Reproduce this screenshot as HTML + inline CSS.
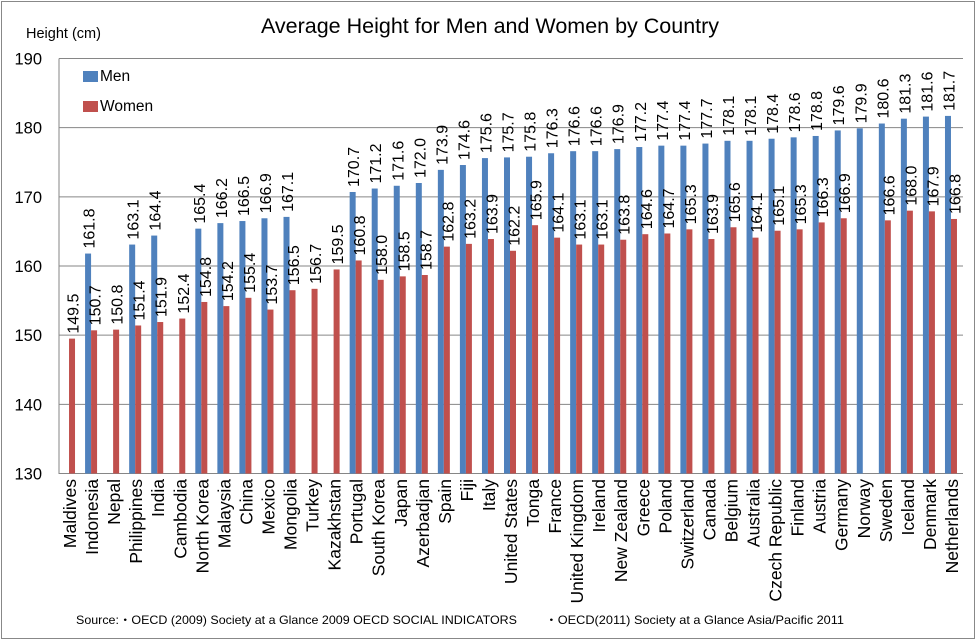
<!DOCTYPE html>
<html><head><meta charset="utf-8"><style>
body{margin:0;background:#fff}
svg{display:block;font-family:"Liberation Sans",sans-serif}
</style></head><body>
<svg id="chart" width="978" height="641" viewBox="0 0 978 641" xmlns="http://www.w3.org/2000/svg">
<rect x="1.5" y="1.5" width="973" height="637" fill="#fff" stroke="#888" stroke-width="1"/>
<text x="490" y="33" font-size="21.5" text-anchor="middle">Average Height for Men and Women by Country</text>
<text x="26" y="38" font-size="14.5">Height (cm)</text>
<g id="grid"></g>
<g id="bars"></g>
<g id="labels"></g>
<g id="xlabels"></g>
<g>
<rect x="83" y="71" width="15" height="11" fill="#4f81bd"/>
<text x="100" y="81" font-size="15.5">Men</text>
<rect x="83" y="101" width="15" height="11" fill="#c0504d"/>
<text x="100" y="111" font-size="15.5">Women</text>
</g>
<text x="76" y="624" font-size="12" textLength="441" lengthAdjust="spacingAndGlyphs">Source:・OECD (2009) Society at a Glance 2009  OECD SOCIAL INDICATORS</text>
<text x="545" y="624" font-size="12" textLength="299" lengthAdjust="spacingAndGlyphs">・OECD(2011) Society at a Glance Asia/Pacific 2011</text>
</svg>
<script>
const countries=["Maldives","Indonesia","Nepal","Philippines","India","Cambodia","North Korea","Malaysia","China","Mexico","Mongolia","Turkey","Kazakhstan","Portugal","South Korea","Japan","Azerbadjan","Spain","Fiji","Italy","United States","Tonga","France","United Kingdom","Ireland","New Zealand","Greece","Poland","Switzerland","Canada","Belgium","Australia","Czech Republic","Finland","Austria","Germany","Norway","Sweden","Iceland","Denmark","Netherlands"];
const men=[null,161.8,null,163.1,164.4,null,165.4,166.2,166.5,166.9,167.1,null,null,170.7,171.2,171.6,172.0,173.9,174.6,175.6,175.7,175.8,176.3,176.6,176.6,176.9,177.2,177.4,177.4,177.7,178.1,178.1,178.4,178.6,178.8,179.6,179.9,180.6,181.3,181.6,181.7];
const women=[149.5,150.7,150.8,151.4,151.9,152.4,154.8,154.2,155.4,153.7,156.5,156.7,159.5,160.8,158.0,158.5,158.7,162.8,163.2,163.9,162.2,165.9,164.1,163.1,163.1,163.8,164.6,164.7,165.3,163.9,165.6,164.1,165.1,165.3,166.3,166.9,null,166.6,168.0,167.9,166.8];
const yTicks=[130,140,150,160,170,180,190];
const NS="http://www.w3.org/2000/svg";
const L=59,R=963,T=58.5,B=473.5,yMin=130,yMax=190;
const y=v=>B-(v-yMin)/(yMax-yMin)*(B-T);
const bw=(R-L)/countries.length;
const xc=i=>L+bw*(i+0.5)-1;
function mk(tag,attrs,parent){const e=document.createElementNS(NS,tag);for(const k in attrs)e.setAttribute(k,attrs[k]);parent.appendChild(e);return e;}
const grid=document.getElementById('grid');
yTicks.forEach(t=>{
  if(t>yMin){const l=mk('line',{x1:L,x2:R,y1:y(t),y2:y(t),stroke:'#868686','stroke-width':1},grid);
  
  }
  const tx=mk('text',{x:42,y:y(t)+6,'font-size':16.5,'text-anchor':'end'},grid);
  tx.textContent=t;
  
  
});
const ax=mk('polyline',{points:`${L},${T} ${L},${B} ${R},${B}`,fill:'none',stroke:'#868686','stroke-width':1},grid);


const bars=document.getElementById('bars'),labels=document.getElementById('labels'),xl=document.getElementById('xlabels');
function bar(v,x,color,name,i){
  if(v==null)return;
  const r=mk('rect',{x:x,y:y(v),width:6,height:B-y(v),fill:color},bars);
  
  
  const lx=x+3+2,ly=y(v)-5;
  const t=mk('text',{x:lx,y:ly,'font-size':16,transform:`rotate(-90 ${lx} ${ly})`,'dominant-baseline':'central'},labels);
  t.textContent=v.toFixed(1);
  
  
}
countries.forEach((c,i)=>{
  const cx=xc(i);
  bar(men[i],cx-6,'#4f81bd','men',i);
  bar(women[i],cx,'#c0504d','women',i);
  const lx=cx+1,ly=479;
  const t=mk('text',{x:lx,y:ly,'font-size':17.5,'text-anchor':'end',transform:`rotate(-90 ${lx} ${ly})`,'dominant-baseline':'central'},xl);
  t.textContent=c;
  
  
});
</script>
</body></html>
